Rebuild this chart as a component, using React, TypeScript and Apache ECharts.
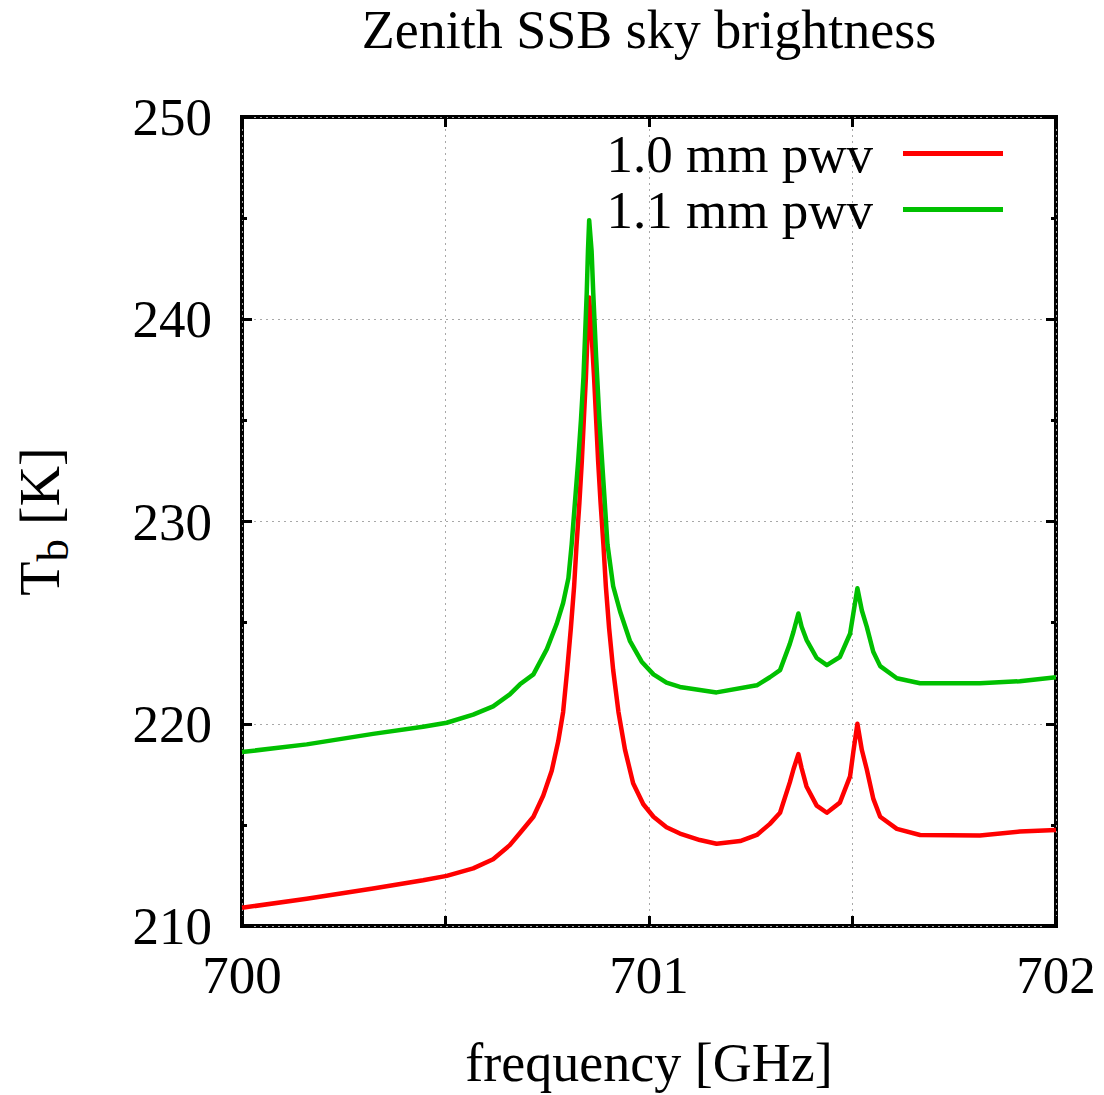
import React, { useEffect, useRef } from "react";
import * as echarts from "echarts";

// 1.0 mm pwv curve (frequency in GHz, brightness temperature in K)
const freqRed = [
  700.0, 700.159, 700.322, 700.445, 700.503, 700.568, 700.617, 700.658, 700.683, 700.716,
  700.74, 700.761, 700.777, 700.789, 700.799, 700.808, 700.816, 700.822, 700.829, 700.835,
  700.84, 700.845, 700.849, 700.853, 700.859, 700.865, 700.87, 700.875, 700.881, 700.888,
  700.894, 700.902, 700.912, 700.925, 700.941, 700.961, 700.986, 701.011, 701.043, 701.076,
  701.125, 701.166, 701.224, 701.265, 701.297, 701.322, 701.346, 701.355, 701.367, 701.375,
  701.387, 701.412, 701.437, 701.469, 701.494, 701.502, 701.512, 701.523, 701.535, 701.551,
  701.568, 701.609, 701.666, 701.813, 701.911, 702.0,
];
const red10 = [
  210.9, 211.35, 211.85, 212.26, 212.48, 212.85, 213.3, 214.0, 214.6, 215.4,
  216.44, 217.68, 219.13, 220.58, 222.65, 224.72, 226.79, 228.86, 230.93, 233.0,
  235.08, 237.14, 239.22, 241.08, 239.22, 237.14, 235.08, 233.0, 230.93, 228.86,
  226.79, 224.72, 222.65, 220.58, 218.72, 217.06, 216.02, 215.4, 214.88, 214.57,
  214.25, 214.07, 214.2, 214.5, 215.05, 215.6, 217.1, 217.75, 218.5, 217.8,
  216.9, 215.95, 215.6, 216.1, 217.4, 218.6, 220.0, 218.7, 217.75, 216.3,
  215.4, 214.8, 214.5, 214.47, 214.67, 214.75,
];

// 1.1 mm pwv curve
const freqGreen = [
  700.0, 700.159, 700.322, 700.445, 700.503, 700.568, 700.617, 700.658, 700.683, 700.716,
  700.749, 700.773, 700.789, 700.802, 700.81, 700.818, 700.826, 700.833, 700.839, 700.843,
  700.847, 700.85, 700.853, 700.859, 700.863, 700.87, 700.878, 700.888, 700.898, 700.912,
  700.929, 700.953, 700.982, 701.011, 701.043, 701.076, 701.166, 701.265, 701.297, 701.322,
  701.346, 701.355, 701.367, 701.375, 701.387, 701.412, 701.437, 701.469, 701.494, 701.502,
  701.512, 701.523, 701.535, 701.551, 701.568, 701.609, 701.666, 701.813, 701.911, 702.0,
];
const green11 = [
  218.6, 218.98, 219.5, 219.85, 220.05, 220.45, 220.86, 221.45, 221.95, 222.44,
  223.69, 224.93, 225.97, 227.2, 228.87, 230.93, 233.0, 235.07, 237.14, 239.22,
  241.29, 243.36, 244.9, 243.36, 241.3, 238.18, 235.07, 231.97, 228.87, 226.8,
  225.55, 224.1, 223.07, 222.44, 222.03, 221.82, 221.55, 221.9, 222.3, 222.65,
  223.95, 224.55, 225.45, 224.8, 224.15, 223.25, 222.9, 223.3, 224.45, 225.45,
  226.7, 225.6, 224.8, 223.56, 222.85, 222.25, 222.0, 222.0, 222.1, 222.3,
];

const seriesNames = ["1.0 mm pwv", "1.1 mm pwv"];
const xLabels = ["700", "701", "702"];
const yLabels = ["210", "220", "230", "240", "250"];

const FONT = "Liberation Serif";

export default function App() {
  const ref = useRef<HTMLDivElement>(null);
  useEffect(() => {
    if (!ref.current) return;
    const chart = echarts.init(ref.current, undefined, { renderer: "svg" });
    const tickStyle = { show: true, inside: true, length: 10, lineStyle: { color: "#000", width: 3 } };
    const minor = { show: true, splitNumber: 2, length: 5, lineStyle: { color: "#000", width: 3 } };
    const gridLine = { show: true, lineStyle: { color: "#a8a8a8", width: 1, type: [2, 4] as any } };
    chart.setOption({
      animation: false,
      backgroundColor: "#fff",
      title: {
        text: "Zenith SSB sky brightness",
        left: 649,
        textAlign: "center",
        top: 3,
        padding: 0,
        textStyle: { fontFamily: FONT, fontSize: 54, fontWeight: "normal", color: "#000" },
      },
      legend: {
        data: seriesNames,
        orient: "vertical",
        align: "right",
        right: 101,
        top: 127,
        padding: 0,
        itemGap: 3,
        itemWidth: 100,
        itemHeight: 5,
        icon: "rect",
        textStyle: { fontFamily: FONT, fontSize: 53, color: "#000", padding: [0, 25, 0, 0] },
      },
      grid: {
        left: 242,
        top: 117,
        right: 48,
        bottom: 164,
        show: true,
        borderColor: "#000",
        borderWidth: 4,
        backgroundColor: "transparent",
      },
      xAxis: [
        {
          type: "value",
          min: 700,
          max: 702,
          interval: 0.5,
          position: "bottom",
          axisLine: { show: false },
          axisTick: tickStyle,
          splitLine: gridLine,
          axisLabel: {
            margin: 22,
            fontFamily: FONT,
            fontSize: 53,
            color: "#000",
            formatter: (v: number) => {
              const s = String(Math.round(v));
              return Math.abs(v - Math.round(v)) < 1e-6 && xLabels.includes(s) ? s : "";
            },
          },
          name: "frequency [GHz]",
          nameLocation: "middle",
          nameGap: 110,
          nameTextStyle: { fontFamily: FONT, fontSize: 54, color: "#000" },
        },
        {
          type: "value",
          min: 700,
          max: 702,
          interval: 0.5,
          position: "top",
          axisLine: { show: false },
          axisTick: tickStyle,
          splitLine: { show: false },
          axisLabel: { show: false },
        },
      ],
      yAxis: [
        {
          type: "value",
          min: 210,
          max: 250,
          interval: 10,
          position: "left",
          axisLine: { show: false },
          axisTick: tickStyle,
          minorTick: minor,
          splitLine: gridLine,
          axisLabel: {
            margin: 30,
            fontFamily: FONT,
            fontSize: 53,
            color: "#000",
            formatter: (v: number) => {
              const s = String(Math.round(v));
              return yLabels.includes(s) ? s : "";
            },
          },
          name: "{t|T}{s|b}{t| [K]}",
          nameLocation: "middle",
          nameRotate: 90,
          nameGap: 167,
          nameTextStyle: {
            fontFamily: FONT,
            color: "#000",
            rich: {
              t: { fontFamily: FONT, fontSize: 56, lineHeight: 70, color: "#000" },
              s: { fontFamily: FONT, fontSize: 45, lineHeight: 42, verticalAlign: "bottom", color: "#000" },
            },
          },
        },
        {
          type: "value",
          min: 210,
          max: 250,
          interval: 10,
          position: "right",
          axisLine: { show: false },
          axisTick: tickStyle,
          minorTick: minor,
          splitLine: { show: false },
          axisLabel: { show: false },
        },
      ],
      series: [
        {
          name: seriesNames[0],
          type: "line",
          data: freqRed.map((f, i) => [f, red10[i]]),
          showSymbol: false,
          symbol: "none",
          lineStyle: { color: "#ff0000", width: 4.5, join: "round" },
          itemStyle: { color: "#ff0000" },
          z: 3,
        },
        {
          name: seriesNames[1],
          type: "line",
          data: freqGreen.map((f, i) => [f, green11[i]]),
          showSymbol: false,
          symbol: "none",
          lineStyle: { color: "#00c000", width: 4.5, join: "round" },
          itemStyle: { color: "#00c000" },
          z: 3,
        },
      ],
    });
    return () => chart.dispose();
  }, []);
  return (
    <div
      ref={ref}
      style={{ position: "absolute", left: 0, top: 0, width: 1104, height: 1095 }}
    />
  );
}
